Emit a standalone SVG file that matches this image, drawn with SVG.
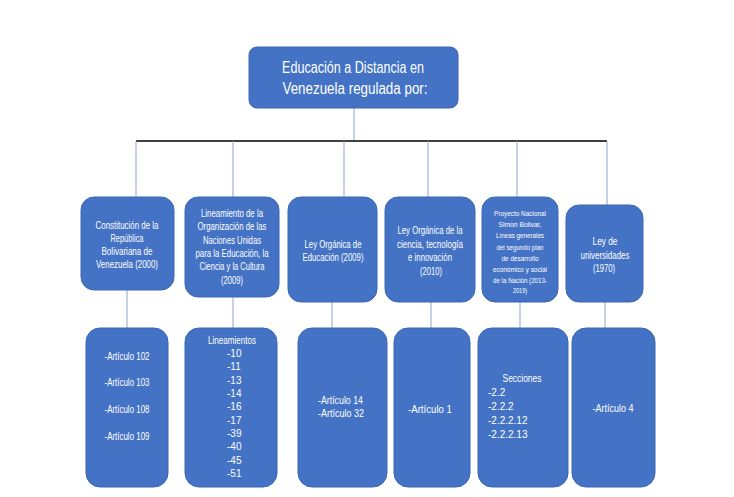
<svg xmlns="http://www.w3.org/2000/svg" width="734" height="497" viewBox="0 0 734 497">
<style>
.box{fill:#4472C4;stroke:#3B67B5;stroke-width:1}
.t{font-family:"Liberation Sans",Arial,sans-serif;fill:#FFFFFF;text-anchor:middle;font-size:10px}
.l{text-anchor:start}
.s{font-size:8px}
.big{font-size:16px}
.conn{stroke:#8EA5CC;stroke-width:1;fill:none}
.bar{stroke:#000000;stroke-width:1.5;fill:none}
</style>
<rect width="734" height="497" fill="#FFFFFF"/>
<g id="connectors">
<line class="conn" x1="354" y1="108" x2="354" y2="141"/>
<line class="bar" x1="136" y1="141" x2="607" y2="141"/>
<line class="conn" x1="136" y1="141" x2="136" y2="197"/>
<line class="conn" x1="233" y1="141" x2="233" y2="197"/>
<line class="conn" x1="344" y1="141" x2="344" y2="197"/>
<line class="conn" x1="428" y1="141" x2="428" y2="197"/>
<line class="conn" x1="517" y1="141" x2="517" y2="197"/>
<line class="conn" x1="607" y1="141" x2="607" y2="205"/>
<line class="conn" x1="127" y1="290" x2="127" y2="328"/>
<line class="conn" x1="233" y1="297" x2="233" y2="328"/>
<line class="conn" x1="332" y1="302" x2="332" y2="328"/>
<line class="conn" x1="431" y1="302" x2="431" y2="328"/>
<line class="conn" x1="520" y1="302" x2="520" y2="328"/>
<line class="conn" x1="605" y1="302" x2="605" y2="328"/>
</g>
<g id="root">
<rect class="box" x="249" y="47" width="209" height="61" rx="8"/>
<text class="t big" x="353" y="73" textLength="142" lengthAdjust="spacingAndGlyphs">Educación a Distancia en</text>
<text class="t big" x="355" y="94" textLength="145" lengthAdjust="spacingAndGlyphs">Venezuela regulada por:</text>
</g>
<g id="n1">
<rect class="box" x="81" y="197" width="93" height="93" rx="13"/>
<text class="t" x="127" y="229" textLength="63" lengthAdjust="spacingAndGlyphs">Constitución de la</text>
<text class="t" x="127" y="242" textLength="33" lengthAdjust="spacingAndGlyphs">República</text>
<text class="t" x="127" y="255" textLength="51" lengthAdjust="spacingAndGlyphs">Bolivariana de</text>
<text class="t" x="127" y="268" textLength="62" lengthAdjust="spacingAndGlyphs">Venezuela (2000)</text>
</g>
<g id="n2">
<rect class="box" x="185" y="197" width="94" height="100" rx="13"/>
<text class="t" x="232" y="217" textLength="62" lengthAdjust="spacingAndGlyphs">Lineamiento de la</text>
<text class="t" x="232" y="230" textLength="69" lengthAdjust="spacingAndGlyphs">Organización de las</text>
<text class="t" x="232" y="244" textLength="58" lengthAdjust="spacingAndGlyphs">Naciones Unidas</text>
<text class="t" x="232" y="257" textLength="73" lengthAdjust="spacingAndGlyphs">para la Educación, la</text>
<text class="t" x="232" y="270" textLength="65" lengthAdjust="spacingAndGlyphs">Ciencia y la Cultura</text>
<text class="t" x="232" y="284" textLength="22" lengthAdjust="spacingAndGlyphs">(2009)</text>
</g>
<g id="n3">
<rect class="box" x="288" y="197" width="89" height="105" rx="13"/>
<text class="t" x="333" y="248" textLength="57" lengthAdjust="spacingAndGlyphs">Ley Orgánica de</text>
<text class="t" x="333" y="261" textLength="61" lengthAdjust="spacingAndGlyphs">Educación (2009)</text>
</g>
<g id="n4">
<rect class="box" x="385" y="197" width="90" height="105" rx="13"/>
<text class="t" x="430" y="234" textLength="65" lengthAdjust="spacingAndGlyphs">Ley Orgánica de la</text>
<text class="t" x="430" y="248" textLength="66" lengthAdjust="spacingAndGlyphs">ciencia, tecnología</text>
<text class="t" x="430" y="261" textLength="44" lengthAdjust="spacingAndGlyphs">e innovación</text>
<text class="t" x="431" y="275" textLength="22" lengthAdjust="spacingAndGlyphs">(2010)</text>
</g>
<g id="n5">
<rect class="box" x="482" y="197" width="76" height="105" rx="13"/>
<text class="t s" x="520" y="216" textLength="52" lengthAdjust="spacingAndGlyphs">Proyecto Nacional</text>
<text class="t s" x="520" y="227" textLength="43" lengthAdjust="spacingAndGlyphs">Simon Bolivar,</text>
<text class="t s" x="520" y="238" textLength="48" lengthAdjust="spacingAndGlyphs">Líneas generales</text>
<text class="t s" x="520" y="250" textLength="47" lengthAdjust="spacingAndGlyphs">del segundo plan</text>
<text class="t s" x="520" y="261" textLength="37" lengthAdjust="spacingAndGlyphs">de desarrollo</text>
<text class="t s" x="520" y="272" textLength="54" lengthAdjust="spacingAndGlyphs">económico y social</text>
<text class="t s" x="520" y="283" textLength="54" lengthAdjust="spacingAndGlyphs">de la Nación (2013-</text>
<text class="t s" x="520" y="293" textLength="14" lengthAdjust="spacingAndGlyphs">2019)</text>
</g>
<g id="n6">
<rect class="box" x="566" y="205" width="77" height="97" rx="13"/>
<text class="t" x="605" y="245" textLength="25" lengthAdjust="spacingAndGlyphs">Ley de</text>
<text class="t" x="605" y="259" textLength="49" lengthAdjust="spacingAndGlyphs">universidades</text>
<text class="t" x="604" y="272" textLength="22" lengthAdjust="spacingAndGlyphs">(1970)</text>
</g>
<g id="d1">
<rect class="box" x="86" y="328" width="82" height="159" rx="14"/>
<text class="t" x="127" y="360" textLength="45" lengthAdjust="spacingAndGlyphs">-Artículo 102</text>
<text class="t" x="127" y="386" textLength="45" lengthAdjust="spacingAndGlyphs">-Artículo 103</text>
<text class="t" x="127" y="413" textLength="45" lengthAdjust="spacingAndGlyphs">-Artículo 108</text>
<text class="t" x="127" y="440" textLength="45" lengthAdjust="spacingAndGlyphs">-Artículo 109</text>
</g>
<g id="d2">
<rect class="box" x="185" y="328" width="92" height="159" rx="14"/>
<text class="t" x="232" y="344" textLength="48" lengthAdjust="spacingAndGlyphs">Lineamientos</text>
<text class="t l" x="227" y="357">-10</text>
<text class="t l" x="227" y="370">-11</text>
<text class="t l" x="227" y="384">-13</text>
<text class="t l" x="227" y="397">-14</text>
<text class="t l" x="227" y="410">-16</text>
<text class="t l" x="227" y="424">-17</text>
<text class="t l" x="227" y="437">-39</text>
<text class="t l" x="227" y="450">-40</text>
<text class="t l" x="227" y="464">-45</text>
<text class="t l" x="227" y="477">-51</text>
</g>
<g id="d3">
<rect class="box" x="298" y="328" width="89" height="159" rx="14"/>
<text class="t l" x="318" y="404" textLength="45" lengthAdjust="spacingAndGlyphs">-Artículo 14</text>
<text class="t l" x="318" y="417" textLength="46" lengthAdjust="spacingAndGlyphs">-Artículo 32</text>
</g>
<g id="d4">
<rect class="box" x="394" y="328" width="76" height="159" rx="14"/>
<text class="t" x="430" y="413" textLength="44" lengthAdjust="spacingAndGlyphs">-Artículo 1</text>
</g>
<g id="d5">
<rect class="box" x="478" y="328" width="90" height="159" rx="14"/>
<text class="t" x="522" y="382" textLength="39" lengthAdjust="spacingAndGlyphs">Secciones</text>
<text class="t l" x="488" y="396">-2.2</text>
<text class="t l" x="488" y="410">-2.2.2</text>
<text class="t l" x="488" y="424">-2.2.2.12</text>
<text class="t l" x="488" y="438">-2.2.2.13</text>
</g>
<g id="d6">
<rect class="box" x="572" y="328" width="83" height="159" rx="14"/>
<text class="t" x="613" y="412" textLength="41" lengthAdjust="spacingAndGlyphs">-Artículo 4</text>
</g>
</svg>
